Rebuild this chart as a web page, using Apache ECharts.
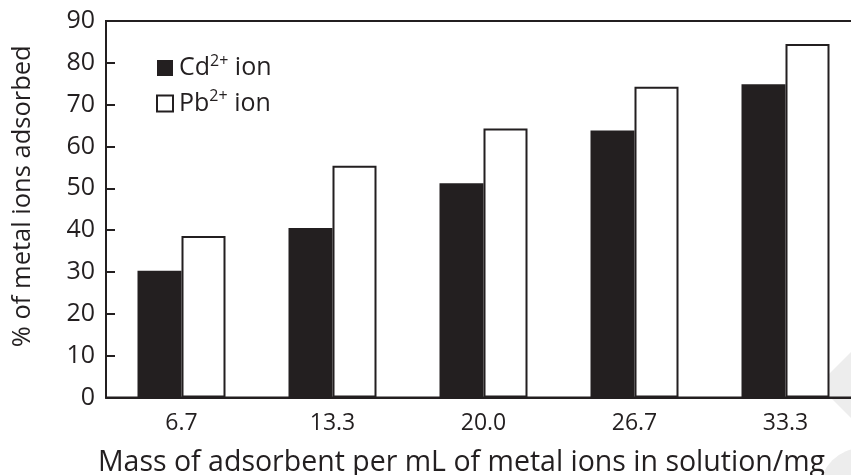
<!DOCTYPE html>
<html>
<head>
<meta charset="utf-8">
<script src="https://cdn.jsdelivr.net/npm/echarts@6/dist/echarts.min.js"></script>
<style>
  html, body { margin: 0; padding: 0; background: #fff; }
  #chart { width: 851px; height: 475px; }
</style>
</head>
<body>
<div id="chart"></div>
<script>
// Adsorbent dose (mg per mL of metal ion solution)
const doses = ['6.7', '13.3', '20.0', '26.7', '33.3'];
// Percentage of ions adsorbed
const cdAdsorbed = [30.3, 40.5, 51.2, 63.8, 74.9];
const pbAdsorbed = [38.6, 55.4, 64.3, 74.3, 84.5];
const ionSymbols = ['Cd', 'Pb'];
const ionCharge = '2+';
const yTicks = { min: 0, max: 90, step: 10 };

const ink = '#231f20';
const font = '"Open Sans", "Noto Sans", sans-serif';

const chart = echarts.init(document.getElementById('chart'), null, { renderer: 'canvas' });

chart.setOption({
  animation: false,
  backgroundColor: '#fff',
  grid: {
    left: 106, top: 21, width: 755, bottom: 77.5,
    outerBoundsMode: 'none',
    containLabel: false,
    show: true, borderColor: ink, borderWidth: 2, backgroundColor: 'transparent'
  },
  legend: {
    left: 156, top: 53,
    padding: 0,
    orient: 'vertical',
    itemWidth: 16, itemHeight: 16, itemGap: 8,
    icon: 'rect',
    data: ionSymbols,
    formatter: name => `{b|${name}}{s|${ionCharge}}{b| ion}`,
    textStyle: {
      fontFamily: font, fontSize: 25, color: ink, padding: [0, 0, 0, 1],
      rich: {
        b: { fontFamily: font, fontSize: 25, color: ink, lineHeight: 30 },
        s: { fontFamily: font, fontSize: 16, color: ink, lineHeight: 16, verticalAlign: 'top' }
      }
    }
  },
  xAxis: {
    type: 'category',
    data: doses,
    boundaryGap: true,
    axisLine: { lineStyle: { color: ink, width: 2 } },
    axisTick: { inside: true, length: 9, lineStyle: { color: ink, width: 2 } },
    axisLabel: { fontFamily: font, fontSize: 23, color: ink, margin: 14, interval: 0 },
    name: 'Mass of adsorbent per mL of metal ions in solution/mg',
    nameLocation: 'middle',
    nameGap: 51,
    nameTextStyle: { fontFamily: font, fontSize: 28.5, color: ink, padding: [0, 44, 0, 0] }
  },
  yAxis: {
    type: 'value',
    min: yTicks.min, max: yTicks.max, interval: yTicks.step,
    splitLine: { show: false },
    axisLine: { show: true, lineStyle: { color: ink, width: 2 } },
    axisTick: { show: true, inside: true, length: 9, lineStyle: { color: ink, width: 2 } },
    axisLabel: { fontFamily: font, fontSize: 25, color: ink, margin: 11 },
    name: '% of metal ions adsorbed',
    nameLocation: 'middle',
    nameGap: 70,
    nameTextStyle: { fontFamily: font, fontSize: 25.5, color: ink, padding: [0, 0, 0, 26] }
  },
  series: [
    {
      name: ionSymbols[0],
      type: 'bar',
      data: cdAdsorbed,
      barWidth: 44,
      barGap: '0%',
      itemStyle: { color: ink, borderColor: ink, borderWidth: 0 }
    },
    {
      name: ionSymbols[1],
      type: 'bar',
      data: pbAdsorbed,
      barWidth: 44,
      barGap: '0%',
      itemStyle: { color: '#fff', borderColor: ink, borderWidth: 2 }
    }
  ],
  graphic: [
    {
      type: 'polygon', z: -1, silent: true,
      shape: { points: [[818, 385], [851, 352], [851, 418]] },
      style: { fill: '#ededed' }
    },
    {
      type: 'circle', z: -1, silent: true,
      shape: { cx: 862, cy: 490, r: 42 },
      style: { fill: '#ededed' }
    }
  ]
});
</script>
</body>
</html>
